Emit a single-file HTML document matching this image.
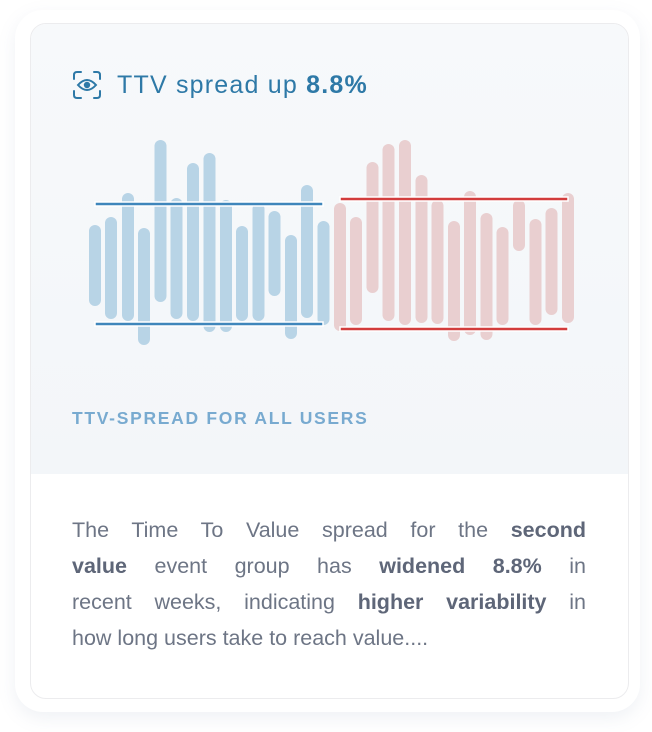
<!DOCTYPE html>
<html><head><meta charset="utf-8"><style>
html,body{margin:0;padding:0;width:652px;height:732px;background:#fff;overflow:hidden}
body{position:relative;font-family:"Liberation Sans",sans-serif}
.outer{position:absolute;left:15px;top:10px;width:625px;height:702px;border-radius:28px;background:#fff;box-shadow:0 6px 18px rgba(120,140,170,.12)}
.card{position:absolute;left:30px;top:23px;width:597px;height:674px;border:1.5px solid #ececee;border-radius:16px;overflow:hidden;background:#fff}
.top{position:absolute;left:0;top:0;width:100%;height:450px;background:linear-gradient(180deg,#f7f9fb 0%,#f3f6f9 100%)}
.title{position:absolute;left:117px;top:71px;font-size:25px;letter-spacing:1.2px;color:#2e79a7;white-space:nowrap}
.label{position:absolute;left:72px;top:408px;font-size:17.5px;font-weight:bold;color:#78aad0;letter-spacing:1.7px;white-space:nowrap}
.para{position:absolute;left:72px;top:512px;width:514px;font-size:21.5px;line-height:36px;color:#6d7585;letter-spacing:0}
.para div{text-align:justify;text-align-last:justify;white-space:nowrap}
.para div.l{text-align:left;text-align-last:left}
.para b{color:#5e6678}
</style></head><body>
<div class="outer"></div>
<div class="card"><div class="top"></div></div>
<svg style="position:absolute;left:0;top:0" width="652" height="732">
<g fill="none" stroke="#2e79a7" stroke-width="2" stroke-linecap="round">
<path d="M74 79v-4q0-3 3-3h4M94 72h3q3 0 3 3v4M100 91v4q0 3-3 3h-3M81 98h-4q-3 0-3-3v-4"/>
<path d="M78 85q9-10 18 0q-9 10-18 0z"/>
</g>
<circle cx="87" cy="85" r="3.2" fill="#2e79a7"/>
<g fill="#b8d4e6">
<rect x="89" y="225" width="12" height="81" rx="6"/>
<rect x="105" y="217" width="12" height="102" rx="6"/>
<rect x="122" y="193" width="12" height="128" rx="6"/>
<rect x="138" y="228" width="12" height="117" rx="6"/>
<rect x="154.5" y="140" width="12" height="162" rx="6"/>
<rect x="170.5" y="198" width="12" height="121" rx="6"/>
<rect x="187" y="163" width="12" height="158" rx="6"/>
<rect x="203.5" y="153" width="12" height="179" rx="6"/>
<rect x="220" y="200" width="12" height="132" rx="6"/>
<rect x="236" y="226" width="12" height="95" rx="6"/>
<rect x="252.5" y="203" width="12" height="118" rx="6"/>
<rect x="268.5" y="211" width="12" height="85" rx="6"/>
<rect x="285" y="235" width="12" height="104" rx="6"/>
<rect x="301" y="185" width="12" height="133" rx="6"/>
<rect x="317.5" y="221" width="12" height="104" rx="6"/>
</g>
<g fill="#e9cfd0">
<rect x="334" y="203" width="12" height="128" rx="6"/>
<rect x="350" y="217" width="12" height="108" rx="6"/>
<rect x="366.5" y="162" width="12" height="131" rx="6"/>
<rect x="382.5" y="144" width="12" height="177" rx="6"/>
<rect x="399" y="140" width="12" height="185" rx="6"/>
<rect x="415.5" y="175" width="12" height="148" rx="6"/>
<rect x="431.5" y="200" width="12" height="124" rx="6"/>
<rect x="448" y="221" width="12" height="120" rx="6"/>
<rect x="464" y="191" width="12" height="144" rx="6"/>
<rect x="480.5" y="213" width="12" height="127" rx="6"/>
<rect x="496.5" y="227" width="12" height="98" rx="6"/>
<rect x="513" y="200" width="12" height="51" rx="6"/>
<rect x="529.5" y="219" width="12" height="106" rx="6"/>
<rect x="545.5" y="208" width="12" height="107" rx="6"/>
<rect x="562" y="193" width="12" height="130" rx="6"/>
</g>
<g stroke="#fff" stroke-width="1.5">
<rect x="95" y="202" width="228" height="4" fill="#3f86bb"/>
<rect x="95" y="322" width="228" height="4" fill="#3f86bb"/>
<rect x="340" y="197" width="228" height="4" fill="#d23c3c"/>
<rect x="340" y="327" width="228" height="4" fill="#d23c3c"/>
</g>
</svg>
<div class="title">TTV spread up <b>8.8%</b></div>
<div class="label">TTV-SPREAD FOR ALL USERS</div>
<div class="para">
<div>The Time To Value spread for the <b>second</b></div>
<div><b>value</b> event group has <b>widened 8.8%</b> in</div>
<div>recent weeks, indicating <b>higher variability</b> in</div>
<div class="l">how long users take to reach value....</div>
</div>
</body></html>
